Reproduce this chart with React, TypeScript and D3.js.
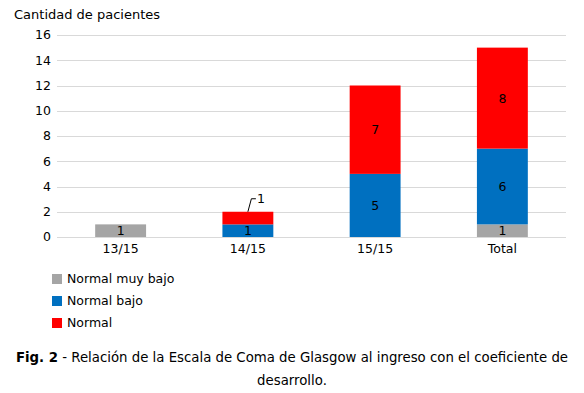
import React, { useRef, useEffect } from 'react'
import * as d3 from 'd3'

const categories = ['13/15', '14/15', '15/15', 'Total']
const seriesNames = ['Normal muy bajo', 'Normal bajo', 'Normal']
const muyBajo = [1, 0, 0, 1]
const bajo = [0, 1, 5, 6]
const normal = [0, 1, 7, 8]
const yTicks = [0, 2, 4, 6, 8, 10, 12, 14, 16]
const colors = ['#A5A5A5', '#0070C0', '#FF0000']

const W = 584
const H = 393
const FONT = 'Verdana, "DejaVu Sans", sans-serif'

const App: React.FC = () => {
  const svgRef = useRef<SVGSVGElement>(null)

  useEffect(() => {
    if (!svgRef.current) return
    d3.select(svgRef.current).selectAll('*').remove()

    const svg = d3.select(svgRef.current)
      .attr('width', W)
      .attr('height', H)
      .style('font-family', FONT)

    const margin = { left: 57, right: 18, top: 35, bottom: 156 }
    const x = d3.scaleBand<string>()
      .domain(categories)
      .range([margin.left, W - margin.right])
      .paddingInner(0.6)
      .paddingOuter(0.3)
    const y = d3.scaleLinear().domain([0, 16]).range([H - margin.bottom, margin.top])

    // 網格線
    svg.append('g')
      .selectAll('line')
      .data(yTicks)
      .enter().append('line')
      .attr('x1', margin.left)
      .attr('x2', W - margin.right)
      .attr('y1', d => Math.round(y(d)) + 0.5)
      .attr('y2', d => Math.round(y(d)) + 0.5)
      .attr('stroke', '#D9D9D9')
      .attr('stroke-width', 1)

    svg.append('g')
      .selectAll('text')
      .data(yTicks)
      .enter().append('text')
      .attr('x', 51)
      .attr('y', d => y(d))
      .attr('dy', '0.35em')
      .attr('text-anchor', 'end')
      .attr('font-size', '12.5px')
      .attr('fill', '#000')
      .text(d => d)

    svg.append('text')
      .attr('x', 14)
      .attr('y', 19)
      .attr('font-size', '13px')
      .text('Cantidad de pacientes')

    // 堆疊資料
    const table = categories.map((c, i) => ({
      cat: c,
      [seriesNames[0]]: muyBajo[i],
      [seriesNames[1]]: bajo[i],
      [seriesNames[2]]: normal[i]
    })) as any[]
    const stacked = d3.stack<any>().keys(seriesNames)(table)

    stacked.forEach((layer, si) => {
      const g = svg.append('g')
      layer.forEach(seg => {
        const v = seg[1] - seg[0]
        if (v <= 0) return
        const cat = seg.data.cat
        g.append('rect')
          .attr('x', x(cat)!)
          .attr('y', y(seg[1]))
          .attr('width', x.bandwidth())
          .attr('height', y(seg[0]) - y(seg[1]))
          .attr('fill', colors[si])
        const cx = x(cat)! + x.bandwidth() / 2
        if (cat === '14/15' && si === 2) {
          // etiqueta con línea guía
          const top = y(seg[1])
          svg.append('path')
            .attr('d', `M${cx},${top} L${cx + 3.5},${top - 13} L${cx + 8},${top - 13}`)
            .attr('fill', 'none')
            .attr('stroke', '#000')
            .attr('stroke-width', 1)
          svg.append('text')
            .attr('x', cx + 9)
            .attr('y', top - 13)
            .attr('dy', '0.35em')
            .attr('font-size', '12.5px')
            .text(v)
        } else {
          svg.append('text')
            .attr('x', cx)
            .attr('y', (y(seg[0]) + y(seg[1])) / 2)
            .attr('dy', '0.38em')
            .attr('text-anchor', 'middle')
            .attr('font-size', '12.5px')
            .attr('fill', '#000')
            .text(v)
        }
      })
    })

    svg.append('g')
      .selectAll('text')
      .data(categories)
      .enter().append('text')
      .attr('x', d => x(d)! + x.bandwidth() / 2)
      .attr('y', y(0) + 16)
      .attr('text-anchor', 'middle')
      .attr('font-size', '12.5px')
      .text(d => d)

    // 圖例
    const legend = svg.append('g')
    seriesNames.forEach((name, i) => {
      legend.append('rect')
        .attr('x', 52)
        .attr('y', 274 + i * 22)
        .attr('width', 10)
        .attr('height', 10)
        .attr('fill', colors[i])
      legend.append('text')
        .attr('x', 67)
        .attr('y', 279 + i * 22)
        .attr('dy', '0.35em')
        .attr('font-size', '12.5px')
        .text(name)
    })

    // 圖說
    const cap = svg.append('text')
      .attr('x', W / 2)
      .attr('y', 362)
      .attr('text-anchor', 'middle')
      .attr('font-size', '13.3px')
    cap.append('tspan').attr('font-weight', 'bold').text('Fig. 2')
    cap.append('tspan').text(' - Relación de la Escala de Coma de Glasgow al ingreso con el coeficiente de')
    svg.append('text')
      .attr('x', W / 2)
      .attr('y', 385)
      .attr('text-anchor', 'middle')
      .attr('font-size', '13.3px')
      .text('desarrollo.')
  }, [])

  return (
    <svg ref={svgRef} style={{ position: 'absolute', left: 0, top: 0, background: '#fff' }} />
  )
}

export default App
